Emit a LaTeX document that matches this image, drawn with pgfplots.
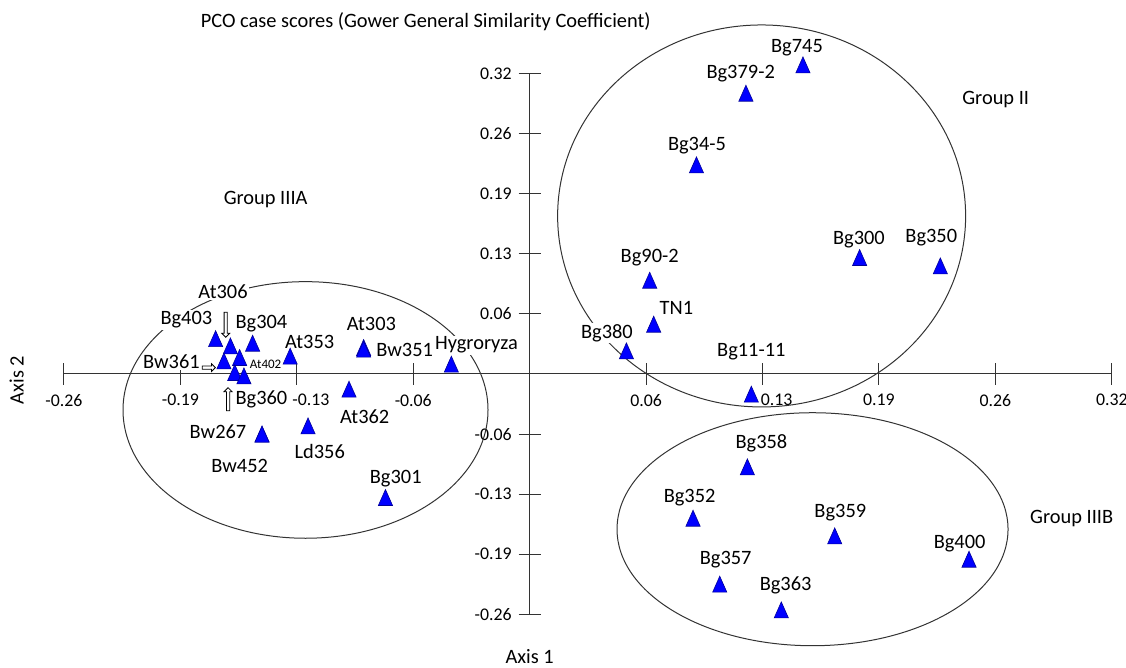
\documentclass[border=0pt]{standalone}
\usepackage{fontspec}
\setmainfont{Carlito}
\usepackage{pgfplots}
\usepackage{pgfplotstable}
\pgfplotsset{compat=1.18}
\usetikzlibrary{shapes.arrows}

\pgfplotstableread{
x y
0.1514 0.3255
0.1198 0.2951
0.0924 0.2182
0.1828 0.1188
0.2275 0.1098
0.0665 0.0944
0.0687 0.0472
0.0536 0.0186
0.1228 -0.0279
0.1206 -0.1059
0.0905 -0.1610
0.1690 -0.1800
0.2434 -0.2050
0.1053 -0.2318
0.1394 -0.2594
-0.0434 0.0043
-0.0920 0.0222
-0.0920 0.0204
-0.1327 0.0129
-0.1001 -0.0225
-0.1228 -0.0619
-0.1483 -0.0708
-0.1483 -0.0708
-0.0799 -0.1388
-0.1740 0.0317
-0.1535 0.0268
-0.1658 0.0239
-0.1694 0.0078
-0.1607 0.0115
-0.1634 -0.0046
-0.1583 -0.0083
}\pts

\newcommand\lf{\fontsize{10.2pt}{12pt}\selectfont}
\newcommand\tf{\fontsize{8.9pt}{10pt}\selectfont}
\newcommand\lab[3]{\node[font=\lf, fill=white, inner sep=0.6pt] at (axis cs:#1,#2) {#3};}

\begin{document}
\begin{tikzpicture}
\useasboundingbox (0,0) rectangle (563pt,334pt);
\begin{axis}[
  at={(32pt,26.8pt)}, anchor=south west,
  scale only axis, width=523.9pt, height=270.45pt,
  xmin=-0.258, xmax=0.3225, ymin=-0.258, ymax=0.3225,
  axis lines=middle, axis line style={-, black!80, line width=0.5pt},
  clip=false,
  tick align=center, major tick length=11pt,
  tick style={black!80, line width=0.5pt},
  xtick={-0.258,-0.1935,-0.129,-0.0645,0.0645,0.129,0.1935,0.258,0.3225},
  xticklabels={-0.26,-0.19,\hspace{14pt}-0.13,-0.06,0.06,\hspace{14pt}0.13,0.19,0.26,0.32},
  ytick={-0.258,-0.1935,-0.129,-0.0645,0.0645,0.129,0.1935,0.258,0.3225},
  yticklabels={-0.26,-0.19,-0.13,-0.06,0.06,0.13,0.19,0.26,0.32},
  ticklabel style={font=\tf},
  xticklabel style={yshift=-1pt},
]
% group ellipses
\draw[black!80, line width=0.5pt] (axis cs:0.1285,0.1696) ellipse [x radius=102pt, y radius=95.5pt];
\draw[black!80, line width=0.5pt] (axis cs:-0.1242,-0.0386) ellipse [x radius=91.25pt, y radius=64.15pt];
\draw[black!80, line width=0.5pt] (axis cs:0.1567,-0.1666) ellipse [x radius=97.75pt, y radius=58.25pt];

% titles
\node[font=\lf] at (axis cs:-0.0576,0.3778) {PCO case scores (Gower General Similarity Coefficient)};
\node[font=\lf] at (axis cs:0,-0.3037) {Axis 1};
\node[font=\lf, rotate=90] at (axis cs:-0.2842,-0.0064) {Axis 2};
\node[font=\lf] at (axis cs:0.2582,0.2941) {Group II};
\node[font=\lf] at (axis cs:-0.1463,0.1867) {Group IIIA};
\node[font=\lf] at (axis cs:0.3003,-0.1556) {Group IIIB};

% point labels
\lab{0.1481}{0.3502}{Bg745}
\lab{0.1169}{0.3220}{Bg379-2}
\lab{0.0927}{0.2450}{Bg34-5}
\lab{0.1824}{0.1438}{Bg300}
\lab{0.2225}{0.1467}{Bg350}
\lab{0.0665}{0.1252}{Bg90-2}
\lab{0.0813}{0.0705}{TN1}
\lab{0.0428}{0.0437}{Bg380}
\lab{0.1228}{0.0239}{Bg11-11}
\lab{0.1284}{-0.0744}{Bg358}
\lab{0.0886}{-0.1323}{Bg352}
\lab{0.1721}{-0.1484}{Bg359}
\lab{0.2382}{-0.1817}{Bg400}
\lab{0.1086}{-0.1996}{Bg357}
\lab{0.1418}{-0.2272}{Bg363}
\lab{-0.0295}{0.0311}{Hygroryza}
\lab{-0.0877}{0.0537}{At303}
\lab{-0.0693}{0.0258}{Bw351}
\lab{-0.1219}{0.0347}{At353}
\lab{-0.0914}{-0.0458}{At362}
\lab{-0.1163}{-0.0834}{Ld356}
\lab{-0.1727}{-0.0619}{Bw267}
\lab{-0.1607}{-0.0987}{Bw452}
\lab{-0.0742}{-0.1119}{Bg301}
\lab{-0.1902}{0.0580}{Bg403}
\lab{-0.1486}{0.0537}{Bg304}
\lab{-0.1699}{0.0883}{At306}
\lab{-0.1985}{0.0132}{Bw361}
\lab{-0.1486}{-0.0272}{Bg360}
\node[font=\fontsize{6.5pt}{7pt}\selectfont, inner sep=0.5pt] at (axis cs:-0.1463,0.0104) {At402};

% hollow arrows
\node[single arrow, draw=black, fill=white, line width=0.4pt, minimum height=12.5pt, minimum width=4pt, inner sep=0.6pt, single arrow head extend=1.2pt, shape border rotate=270] at (axis cs:-0.1684,0.0537) {};
\node[single arrow, draw=black, fill=white, line width=0.4pt, minimum height=6.5pt, minimum width=3.6pt, inner sep=0.6pt, single arrow head extend=1.1pt, shape border rotate=0] at (axis cs:-0.1782,0.0068) {};
\node[single arrow, draw=black, fill=white, line width=0.4pt, minimum height=11.5pt, minimum width=4pt, inner sep=0.6pt, single arrow head extend=1.2pt, shape border rotate=90] at (axis cs:-0.1671,-0.0279) {};

% points
\addplot[only marks, mark=triangle*, mark size=4.1pt,
  mark options={fill=blue, draw=blue!60!black, line width=0.3pt, yscale=1.3, yshift=1.2pt}]
  table[x=x, y=y] {\pts};
\end{axis}
\end{tikzpicture}
\end{document}
